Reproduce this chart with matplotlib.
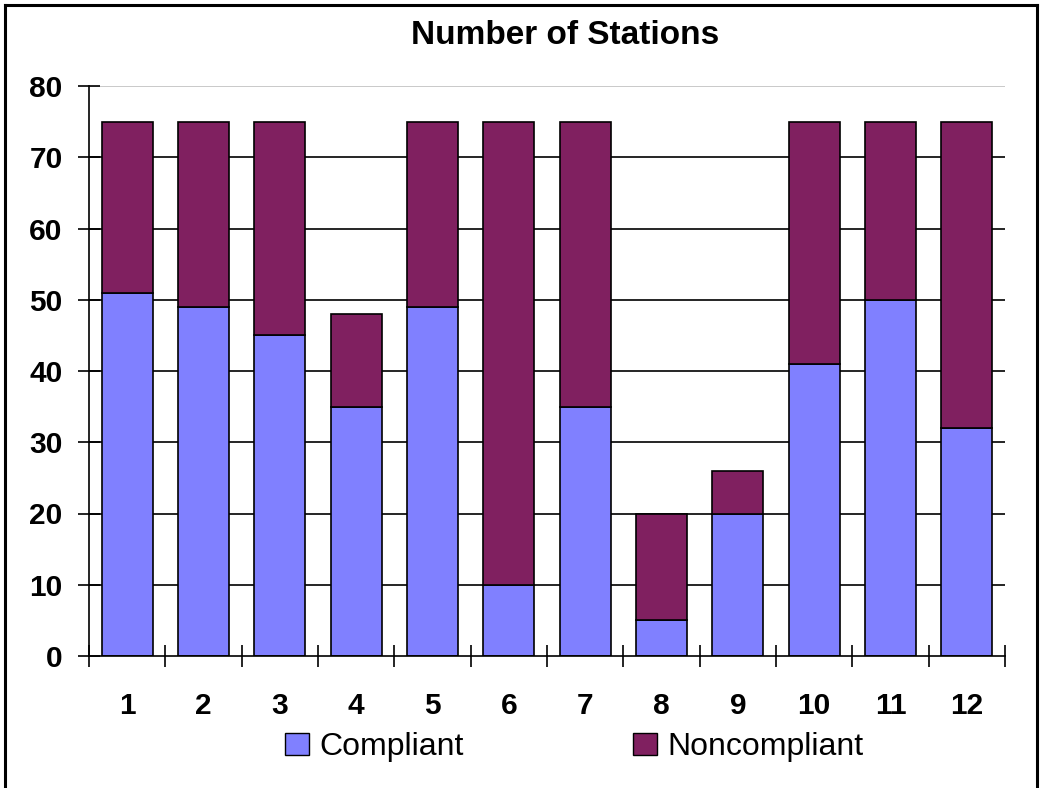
import matplotlib
matplotlib.use("Agg")
import matplotlib.pyplot as plt
from matplotlib.patches import Patch
from matplotlib.lines import Line2D
import numpy as np

plt.rcParams['font.family'] = ['Liberation Sans', 'DejaVu Sans']

stations = ['1', '2', '3', '4', '5', '6', '7', '8', '9', '10', '11', '12']
compliant = [51, 49, 45, 35, 49, 10, 35, 5, 20, 41, 50, 32]
noncompliant = [24, 26, 30, 13, 26, 65, 40, 15, 6, 34, 25, 43]
yticks = [0, 10, 20, 30, 40, 50, 60, 70, 80]

c_comp = '#8080FF'
c_non = '#802060'

W, H = 1041, 788
fig = plt.figure(figsize=(W / 100, H / 100), dpi=100)
ax = fig.add_axes([89 / W, 1 - 656 / H, (1005 - 89) / W, (656 - 86) / H])

x = np.arange(1, len(stations) + 1)
ax.bar(x, compliant, width=0.67, color=c_comp, edgecolor='black', linewidth=1.2, zorder=3)
ax.bar(x, noncompliant, bottom=compliant, width=0.67, color=c_non, edgecolor='black',
       linewidth=1.2, zorder=3)

ax.set_xlim(0.5, len(stations) + 0.5)
ax.set_ylim(0, 80)

# horizontal gridlines
for v in yticks[1:-1]:
    ax.axhline(v, color='black', linewidth=1.2, zorder=1)
ax.axhline(80, color='#c0c0c0', linewidth=1.2, zorder=1)

ax.set_yticks(yticks)
ax.set_yticklabels([str(v) for v in yticks], fontsize=21.5, fontweight='bold')
ax.tick_params(axis='y', direction='inout', length=16, width=1.2, pad=11)

# category labels centred under bars, ticks at category boundaries
ax.set_xticks(np.arange(0.5, len(stations) + 1.5, 1.0))
ax.set_xticklabels([])
ax.set_xticks(x, minor=True)
ax.set_xticklabels(stations, minor=True, fontsize=21.5, fontweight='bold')
ax.tick_params(axis='x', which='major', direction='inout', length=16, width=1.2)
ax.tick_params(axis='x', which='minor', length=0, pad=26)

for s in ['top', 'right']:
    ax.spines[s].set_visible(False)
ax.spines['left'].set_linewidth(1.2)
ax.spines['bottom'].set_linewidth(1.2)
ax.spines['left'].set_zorder(4)
ax.spines['bottom'].set_zorder(4)

fig.text(565 / W, 1 - 35 / H, 'Number of Stations', ha='center', va='center',
         fontsize=24, fontweight='bold')

handles = [Patch(facecolor=c_comp, edgecolor='black', linewidth=1.0, label='Compliant'),
           Patch(facecolor=c_non, edgecolor='black', linewidth=1.0, label='Noncompliant')]
fig.legend(handles=handles, loc='center', bbox_to_anchor=(574 / W, 1 - 747 / H), ncol=2,
           frameon=False, fontsize=23, handlelength=0.75, handleheight=0.7,
           handletextpad=0.33, columnspacing=5.3, borderpad=0)

# outer frame
for xs, ys in [([5 / W, 5 / W], [-0.01, 1 - 5 / H]),
               ([5 / W, 1037 / W], [1 - 5 / H, 1 - 5 / H]),
               ([1037 / W, 1037 / W], [1 - 5 / H, -0.01])]:
    fig.add_artist(Line2D(xs, ys, color='black', linewidth=2.2, transform=fig.transFigure))

fig.savefig('out.png', dpi=100)
